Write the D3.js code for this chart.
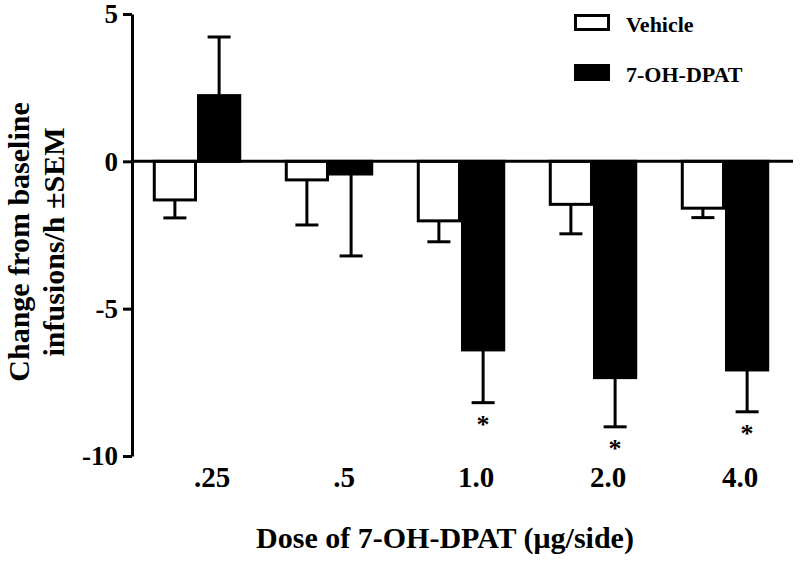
<!DOCTYPE html>
<html>
<head>
<meta charset="utf-8">
<script src="https://cdn.jsdelivr.net/npm/d3@7"></script>
<style>
  html, body { margin: 0; padding: 0; background: #fff; }
  svg { display: block; }
  text { font-family: "Liberation Serif", "Times New Roman", Times, serif; font-weight: bold; fill: #000; }
</style>
</head>
<body>
<svg id="chart" width="800" height="562"></svg>
<script>
// ---- data ----
const doses = [".25", ".5", "1.0", "2.0", "4.0"];
const seriesNames = ["Vehicle", "7-OH-DPAT"];
const vehicleMean = [-1.31, -0.63, -2.02, -1.46, -1.59];
const vehicleSem  = [0.61, 1.53, 0.71, 1.00, 0.32];
const drugMean    = [2.23, -0.43, -6.40, -7.34, -7.08];
const drugSem     = [1.99, 2.78, 1.79, 1.67, 1.42];
const significant = [false, false, true, true, true];
const yTicks = [5, 0, -5, -10];
const yTickLabels = ["5", "0", "-5", "-10"];
const yTitleLines = ["Change from baseline", "infusions/h \u00B1SEM"];
const xTitle = "Dose of 7-OH-DPAT (\u03BCg/side)";

// ---- layout ----
const svg = d3.select("#chart");
const axisX = 132;
const y = d3.scaleLinear().domain([5, -10]).range([14, 456]);
const x = d3.scaleBand().domain(doses).range([131, 791]).paddingInner(0.33).paddingOuter(0.165);
const xs = d3.scaleBand().domain(seriesNames).range([0, x.bandwidth()]);
const sw = 3;

const rows = [];
doses.forEach((d, i) => {
  rows.push({dose: d, s: seriesNames[0], mean: vehicleMean[i], sem: vehicleSem[i], fill: "#fff", sig: false});
  rows.push({dose: d, s: seriesNames[1], mean: drugMean[i], sem: drugSem[i], fill: "#000", sig: significant[i]});
});

// bars
svg.append("g").selectAll("rect").data(rows).join("rect")
  .attr("x", d => x(d.dose) + xs(d.s) + sw / 2)
  .attr("width", xs.bandwidth() - sw)
  .attr("y", d => Math.min(y(d.mean), y(0)))
  .attr("height", d => Math.abs(y(d.mean) - y(0)))
  .attr("fill", d => d.fill)
  .attr("stroke", "#000")
  .attr("stroke-width", sw);

// error bars
const eb = svg.append("g").attr("stroke", "#000").attr("stroke-width", sw);
rows.forEach(d => {
  const cx = x(d.dose) + xs(d.s) + xs.bandwidth() / 2;
  const end = d.mean >= 0 ? d.mean + d.sem : d.mean - d.sem;
  eb.append("line").attr("x1", cx).attr("x2", cx).attr("y1", y(d.mean)).attr("y2", y(end));
  eb.append("line").attr("x1", cx - 11.5).attr("x2", cx + 11.5).attr("y1", y(end)).attr("y2", y(end));
  if (d.sig) {
    svg.append("text").attr("x", cx).attr("y", y(end) + 30)
      .attr("text-anchor", "middle").attr("font-size", 26).text("*");
  }
});

// zero line
svg.append("line").attr("x1", axisX).attr("x2", 793).attr("y1", y(0)).attr("y2", y(0))
  .attr("stroke", "#000").attr("stroke-width", sw);

// y axis (line + ticks via d3 axis, labels drawn as plain text)
const yAxis = svg.append("g").attr("transform", `translate(${axisX},0)`)
  .call(d3.axisLeft(y).tickValues(yTicks).tickSize(9).tickSizeOuter(0).tickFormat(""));
yAxis.select(".domain").attr("stroke", "#000").attr("stroke-width", sw);
yAxis.selectAll(".tick line").attr("stroke", "#000").attr("stroke-width", sw);
yAxis.selectAll(".tick text").remove();
svg.append("g").selectAll("text").data(yTicks).join("text")
  .attr("x", axisX - 14)
  .attr("y", d => y(d))
  .attr("dy", "0.34em")
  .attr("text-anchor", "end")
  .attr("font-size", 27)
  .text((d, i) => yTickLabels[i]);

// x tick labels
svg.append("g").selectAll("text").data(doses).join("text")
  .attr("x", d => x(d) + x.bandwidth() / 2 + 15)
  .attr("y", 487)
  .attr("text-anchor", "middle").attr("font-size", 29).text(d => d);

// y title
const yt = svg.append("text").attr("transform", "translate(0,242) rotate(-90)")
  .attr("text-anchor", "middle").attr("font-size", 30);
yt.selectAll("tspan").data(yTitleLines).join("tspan")
  .attr("x", 0).attr("y", (d, i) => i === 0 ? 29 : 64).text(d => d);

// x title
svg.append("text").attr("x", 445).attr("y", 548).attr("text-anchor", "middle")
  .attr("font-size", 30).text(xTitle);

// legend
const lg = svg.append("g");
seriesNames.forEach((s, i) => {
  const top = 15.5 + i * 50;
  lg.append("rect").attr("x", 575.5).attr("y", top).attr("width", 33).attr("height", 14)
    .attr("fill", i === 0 ? "#fff" : "#000").attr("stroke", "#000").attr("stroke-width", sw);
  lg.append("text").attr("x", 626).attr("y", top + 16.5).attr("font-size", 22).text(s);
});
</script>
</body>
</html>
